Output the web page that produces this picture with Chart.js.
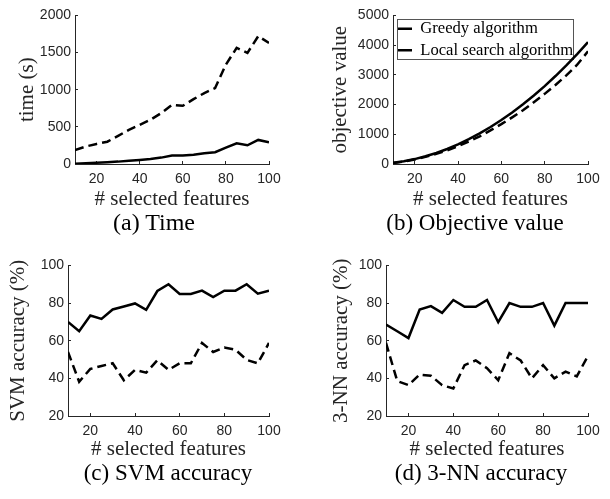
<!DOCTYPE html>
<html><head><meta charset="utf-8">
<script src="https://cdn.jsdelivr.net/npm/chart.js@4.4.1/dist/chart.umd.min.js"></script>
<style>
html,body{margin:0;padding:0;background:#fff;}
body{width:610px;height:499px;position:relative;overflow:hidden;}
canvas{position:absolute;}
.cap{position:absolute;width:240px;text-align:center;font-family:"Liberation Serif",serif;font-size:23px;line-height:23px;color:#000;white-space:nowrap;}
</style></head><body>
<canvas id="ca" width="305" height="250" style="left:0;top:0"></canvas>
<canvas id="cb" width="305" height="250" style="left:305px;top:0"></canvas>
<canvas id="cc" width="305" height="249" style="left:0;top:250px"></canvas>
<canvas id="cd" width="305" height="249" style="left:305px;top:250px"></canvas>
<div class="cap" style="left:34px;top:211px;font-size:24px">(a) Time</div>
<div class="cap" style="left:355px;top:211px">(b) Objective value</div>
<div class="cap" style="left:48px;top:461px">(c) SVM accuracy</div>
<div class="cap" style="left:361px;top:461px">(d) 3-NN accuracy</div>
<script>
const features = [10,15,20,25,30,35,40,45,50,55,60,65,70,75,80,85,90,95,100];
const xTickValues = [20,40,60,80,100];
const timeTicks = [0,500,1000,1500,2000];
const objTicks = [0,1000,2000,3000,4000,5000];
const accTicks = [20,40,60,80,100];
const seriesNames = ['Greedy algorithm','Local search algorithm'];

const timeGreedy = [5,10,18,25,32,43,54,68,86,113,113,126,144,158,220,279,252,324,293];
const timeLocal  = [189,235,270,300,378,460,527,595,685,797,783,873,955,1022,1338,1563,1495,1720,1630];
const objGreedy  = [40,95,165,260,370,505,660,835,1030,1245,1480,1735,2010,2305,2620,2960,3320,3700,4100];
const objLocal   = [30,80,150,240,340,460,600,760,930,1130,1340,1570,1810,2080,2360,2660,2980,3340,3790];
const svmGreedy  = [70,65,73.4,71.6,76.6,78.2,79.8,76.4,86.4,90,84.8,84.8,86.6,83.2,86.6,86.6,90,85,86.6];
const svmLocal   = [54,38.2,45,46.6,48,39,44.5,43,49.6,44.5,48,48,58.8,54,56.4,55.2,49.8,48,58.8];
const knnGreedy  = [68.6,65,61.4,76.6,78.4,74.8,81.6,78,78,81.6,69.8,80,78,78,80,68,80,80,80];
const knnLocal   = [58.8,38.6,36.4,42,41.4,36.4,34.6,47,49.5,45.4,39,53.4,49.5,40,47,40,43.6,41,52];

const axisColor = '#262626';
function pairs(ys){ return features.map((x,i)=>({x:x, y:ys[i]})); }

const legendFrame = {
  id:'legendFrame',
  afterLayout(chart){
    const lg = chart.legend;
    if(!lg || !lg.options.display) return;
    const h = lg.height;
    lg.top = chart.chartArea.top;
    lg.bottom = lg.top + h;
    lg.left = chart.chartArea.left;
    lg.right = lg.left + lg.width;
  },
  beforeDatasetsDraw(chart){
    const lg = chart.legend;
    if(!lg || !lg.options.display || !lg.legendHitBoxes || !lg.legendHitBoxes.length) return;
    const hb = lg.legendHitBoxes;
    let l=Infinity,t=Infinity,r=-Infinity,b=-Infinity;
    hb.forEach(h=>{l=Math.min(l,h.left);t=Math.min(t,h.top);r=Math.max(r,h.left+h.width);b=Math.max(b,h.top+h.height);});
    const ctx = chart.ctx;
    ctx.save();
    ctx.strokeStyle='#555';
    ctx.lineWidth=1;
    ctx.strokeRect(Math.round(l-1)+0.5, Math.round(t-1)+0.5, Math.round(r-l+1), Math.round(b-t+2));
    ctx.restore();
  }
};

function makeChart(id, o){
  const cfg = {
    type:'line',
    data:{ datasets:[
      { label:seriesNames[0], data:pairs(o.g), borderColor:'#000', backgroundColor:'#000', borderWidth:2.5, pointRadius:0, tension:0, fill:false },
      { label:seriesNames[1], data:pairs(o.l), borderColor:'#000', backgroundColor:'#000', borderWidth:2.5, pointRadius:0, tension:0, fill:false, borderDash:[9,5] }
    ]},
    options:{
      responsive:false, animation:false, devicePixelRatio:1,
      layout:{ padding:{ left:0, top:15, right:o.right, bottom:0 } },
      plugins:{
        tooltip:{enabled:false},
        legend: o.legend ? {
          display:true, position:'chartArea', align:'start',
          labels:{ usePointStyle:true, pointStyle:'line', pointStyleWidth:14, color:'#000',
                   font:{family:'Liberation Serif', size:16.6}, padding:5 }
        } : {display:false}
      },
      scales:{
        x:{ type:'linear', min:10, max:100,
          afterBuildTicks: s=>{ s.ticks = xTickValues.map(v=>({value:v})); },
          afterFit: s=>{ s.height = o.xh; },
          grid:{ drawOnChartArea:false, drawTicks:true, tickLength:-3, color:axisColor, lineWidth:1 },
          border:{ display:true, color:axisColor, width:1 },
          ticks:{ color:axisColor, font:{family:'Liberation Sans', size:14}, padding:10, maxRotation:0, autoSkip:false, callback: v=>String(v) },
          title:{ display:true, text:'# selected features', color:axisColor, font:{family:'Liberation Serif', size:21}, padding:{top:0,bottom:o.xtp} }
        },
        y:{ type:'linear', min:o.yt[0], max:o.yt[o.yt.length-1],
          afterBuildTicks: s=>{ s.ticks = o.yt.map(v=>({value:v})); },
          afterFit: s=>{ s.width = o.yw; },
          grid:{ drawOnChartArea:false, drawTicks:true, tickLength:-3, color:axisColor, lineWidth:1 },
          border:{ display:true, color:axisColor, width:1 },
          ticks:{ color:axisColor, font:{family:'Liberation Sans', size:14}, padding:7, autoSkip:false, callback: v=>String(v) },
          title:{ display:true, text:o.ytitle, color:axisColor, font:{family:'Liberation Serif', size:21}, padding:{top:o.ytp,bottom:0} }
        }
      }
    },
    plugins: o.legend ? [legendFrame] : []
  };
  return new Chart(document.getElementById(id), cfg);
}

makeChart('ca',{ g:timeGreedy, l:timeLocal, yt:timeTicks, ytitle:'time (s)', yw:75, xh:86, right:36, ytp:14.4, xtp:38.4 });
makeChart('cb',{ g:objGreedy, l:objLocal, yt:objTicks, ytitle:'objective value', yw:88, xh:86, right:22, ytp:22.4, xtp:38.4, legend:true });
makeChart('cc',{ g:svmGreedy, l:svmLocal, yt:accTicks, ytitle:'SVM accuracy (%)', yw:68, xh:83, right:36, ytp:5.4, xtp:37.4 });
makeChart('cd',{ g:knnGreedy, l:knnLocal, yt:accTicks, ytitle:'3-NN accuracy (%)', yw:81, xh:83, right:22, ytp:23.4, xtp:37.4 });
</script>
</body></html>
